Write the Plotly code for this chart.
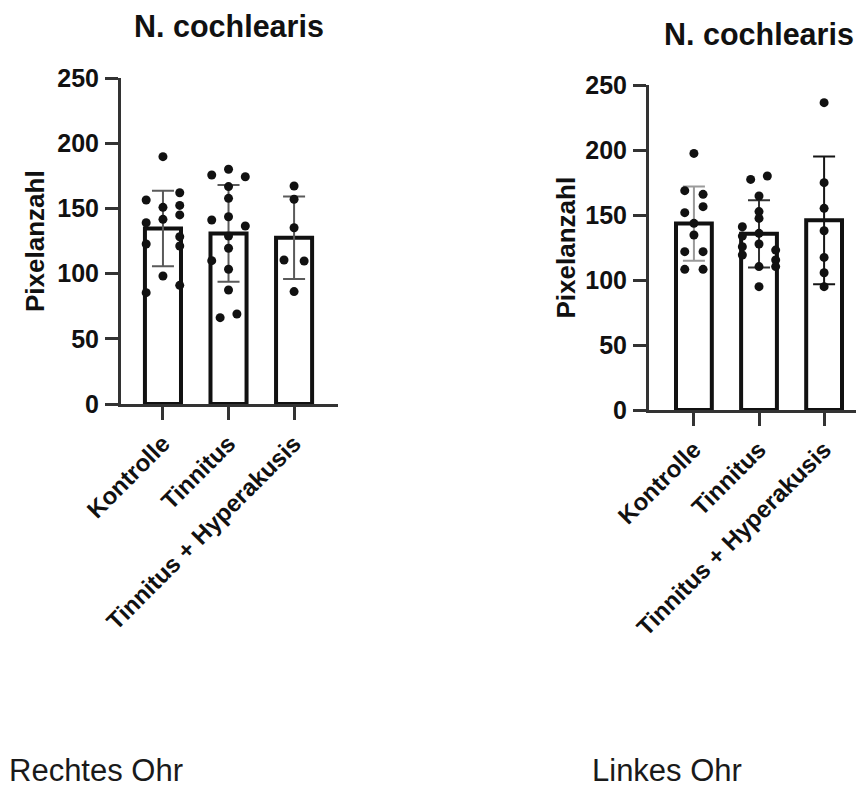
import plotly.graph_objects as go

# Groups and y-axis ticks
groups = ["Kontrolle", "Tinnitus", "Tinnitus + Hyperakusis"]
y_ticks = [0, 50, 100, 150, 200, 250]

# Rechtes Ohr: pixel counts per subject
rechts_kontrolle = [189.7, 162.0, 156.4, 152.3, 150.8, 145.0, 141.6, 139.0,
                    128.3, 122.7, 121.2, 98.2, 91.0, 85.4]
rechts_tinnitus = [180.0, 175.6, 174.3, 166.7, 157.7, 143.6, 141.1, 136.5,
                   128.8, 119.4, 109.9, 103.3, 87.4, 69.0, 66.2]
rechts_hyper = [167.2, 157.0, 135.2, 110.4, 109.7, 86.2]
rechts_mean = [134.6, 130.8, 127.5]
rechts_sd = [28.9, 37.1, 31.6]

# Linkes Ohr: pixel counts per subject
links_kontrolle = [197.4, 168.7, 165.9, 156.4, 151.8, 143.6, 134.6, 121.8,
                   121.8, 108.2, 108.2]
links_tinnitus = [180.0, 177.4, 164.6, 152.6, 147.4, 141.0, 135.9, 133.8,
                  127.7, 125.6, 123.0, 119.2, 115.4, 110.3, 110.3, 94.9]
links_hyper = [236.4, 174.9, 155.1, 137.9, 117.4, 105.6, 94.9]
links_mean = [143.4, 135.5, 145.9]
links_sd = [28.5, 25.8, 49.1]

# Horizontal swarm slots for the dots (same order as the values above)
rechts_slots = [
    [0, 2, -2, 2, 0, 2, 0, -2, 2, -2, 2, 0, 2, -2],
    [0, -2, 2, 0, 0, 0, -2, 2, 0, 0, -2, 0, 0, 1, -1],
    [0, 0, 0, -1.2, 1.2, 0],
]
links_slots = [
    [0, -1.1, 1.1, 1.1, -1.1, 0, 0, -1.1, 1.1, -1.1, 1.1],
    [1, -1, 0, 0, 0, -2, 0, -2, 0, -2, 2, -2, 2, 0, 2, 0],
    [0, 0, 0, 0, 0, 0, 0],
]
SLOT_STEP = 0.128

W, H = 856, 790
FONT = "Liberation Sans, Arial, Helvetica, sans-serif"
INK = "#111111"
AXIS = "#333333"

panels = [
    dict(xa="x", ya="y", values=[rechts_kontrolle, rechts_tinnitus, rechts_hyper],
         mean=rechts_mean, sd=rechts_sd, slots=rechts_slots,
         err_colors=["#5a5a5a", "#5a5a5a", "#5a5a5a"]),
    dict(xa="x2", ya="y2", values=[links_kontrolle, links_tinnitus, links_hyper],
         mean=links_mean, sd=links_sd, slots=links_slots,
         err_colors=["#9a9a9a", "#333333", "#151515"]),
]

fig = go.Figure()

for p in panels:
    for i in range(len(groups)):
        fig.add_trace(go.Bar(
            x=[i], y=[p["mean"][i]], width=0.55,
            marker=dict(color="white", line=dict(color=INK, width=4)),
            error_y=dict(type="data", array=[p["sd"][i]], visible=True,
                         color=p["err_colors"][i], thickness=2, width=11),
            xaxis=p["xa"], yaxis=p["ya"], showlegend=False, hoverinfo="skip",
        ))
    for i in range(len(groups)):
        vals = p["values"][i]
        xs = [i + s * SLOT_STEP for s in p["slots"][i]]
        fig.add_trace(go.Scatter(
            x=xs, y=vals, mode="markers",
            marker=dict(size=9, color=INK, line=dict(width=0)),
            xaxis=p["xa"], yaxis=p["ya"], showlegend=False, cliponaxis=False,
        ))


def px_x(v):
    return v / W


def px_y(v):
    return 1 - v / H


def yaxis_cfg(top_px, bottom_px, anchor):
    return dict(
        domain=[px_y(bottom_px), px_y(top_px)], range=[0, 250], anchor=anchor,
        tickvals=y_ticks, ticks="outside", ticklen=13, tickwidth=2.5,
        tickcolor=AXIS, showline=True, linewidth=3, linecolor=AXIS,
        showgrid=False, zeroline=False, ticklabelstandoff=1, automargin=False,
        tickfont=dict(family=FONT, size=25, color=INK, weight="bold"),
        fixedrange=True,
    )


def xaxis_cfg(left_px, right_px, rng, anchor):
    return dict(
        domain=[px_x(left_px), min(1.0, px_x(right_px))], range=rng, anchor=anchor,
        tickvals=[0, 1, 2], ticktext=groups, tickangle=-45,
        ticks="outside", ticklen=13, tickwidth=2.5, tickcolor=AXIS,
        showline=True, linewidth=3, linecolor=AXIS, automargin=False,
        showgrid=False, zeroline=False,
        tickfont=dict(family=FONT, size=24, color=INK, weight="bold"),
        fixedrange=True,
    )


fig.update_layout(
    width=W, height=H, margin=dict(l=0, r=0, t=0, b=0, autoexpand=False),
    paper_bgcolor="white", plot_bgcolor="white",
    barmode="overlay", showlegend=False,
    xaxis=xaxis_cfg(121, 338, [-0.64, 2.67], "y"),
    yaxis=yaxis_cfg(78, 404, "x"),
    xaxis2=xaxis_cfg(649, 856, [-0.69, 2.49], "y2"),
    yaxis2=yaxis_cfg(85, 410, "x2"),
)

annotations = [
    # panel titles
    dict(text="N. cochlearis", x=px_x(229), y=px_y(26), size=30.5, bold=True),
    dict(text="N. cochlearis", x=px_x(758.5), y=px_y(34), size=30.5, bold=True),
    # y-axis titles
    dict(text="Pixelanzahl", x=px_x(35), y=px_y(241), size=26, bold=True, angle=-90),
    dict(text="Pixelanzahl", x=px_x(565), y=px_y(247.5), size=26, bold=True, angle=-90),
]
for a in annotations:
    fig.add_annotation(
        text=a["text"], x=a["x"], y=a["y"], xref="paper", yref="paper",
        xanchor="center", yanchor="middle", showarrow=False,
        textangle=a.get("angle", 0),
        font=dict(family=FONT, size=a["size"], color=INK,
                  weight="bold" if a["bold"] else "normal"),
    )

# ear labels below the panels
for label, xl in [("Rechtes Ohr", 8), ("Linkes Ohr", 591)]:
    fig.add_annotation(
        text=label, x=px_x(xl), y=0.0015, xref="paper", yref="paper",
        xanchor="left", yanchor="bottom", showarrow=False, borderpad=0,
        font=dict(family=FONT, size=31, color="#1a1a1a"),
    )

fig.write_html("out.html")
